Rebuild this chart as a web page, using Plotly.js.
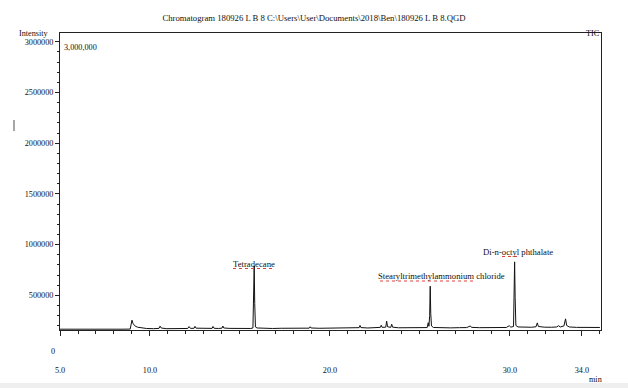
<!DOCTYPE html>
<html>
<head>
<meta charset="utf-8">
<script src="https://cdn.plot.ly/plotly-3.0.1.min.js"></script>
<style>html,body{margin:0;padding:0;background:#fff;}#chart{width:628px;height:388px;}</style>
</head>
<body>
<div id="chart"></div>
<script>
// Retention time (min)
const retentionTime = [
  5.0, 5.5, 6.0, 6.5, 7.0, 7.5, 8.0, 8.5, 8.9, 8.95, 9.0, 9.05, 9.15, 9.3, 9.5, 9.8,
  10.2, 10.5, 10.56, 10.62, 10.9, 11.3, 11.7, 12.1, 12.17, 12.25, 12.45, 12.5, 12.56, 12.9,
  13.2, 13.45, 13.5, 13.56, 13.8, 14.0, 14.05, 14.1, 14.4, 14.8, 15.2, 15.6, 15.72, 15.76,
  15.79, 15.82, 15.86, 15.95, 16.3, 16.8, 17.3, 17.8, 18.3, 18.85, 18.9, 18.95, 19.4, 19.9,
  20.4, 20.9, 21.3, 21.62, 21.67, 21.72, 22.1, 22.5, 22.8, 22.85, 22.9, 23.1, 23.15, 23.2,
  23.38, 23.43, 23.48, 23.8, 24.3, 24.8, 25.2, 25.4, 25.46, 25.5, 25.54, 25.57, 25.6, 25.64,
  25.75, 26.2, 26.7, 27.2, 27.6, 27.8, 27.86, 28.3, 28.8, 29.3, 29.8, 29.96, 30.05, 30.2,
  30.23, 30.26, 30.29, 30.33, 30.45, 30.8, 31.2, 31.45, 31.52, 31.58, 31.9, 32.3, 32.6, 32.7,
  32.8, 33.0, 33.09, 33.15, 33.3, 33.7, 34.2, 34.6, 35.0
];
// TIC intensity
const intensity = [
  166000, 165000, 167000, 166000, 165500, 166500, 167000, 166000, 167000, 200000, 255000, 225000, 200000, 186000, 178000, 173000,
  171000, 174000, 196000, 178000, 171000, 170000, 172000, 173000, 192000, 174000, 175000, 194000, 176000, 173000,
  172000, 174000, 193000, 175000, 173000, 176000, 197000, 178000, 174000, 172000, 173000, 173000, 178000, 400000,
  790000, 420000, 188000, 178000, 174000, 173000, 175000, 174000, 173000, 176000, 190000, 178000, 175000, 176000,
  178000, 177000, 179000, 181000, 203000, 182000, 178000, 180000, 184000, 205000, 184000, 186000, 245000, 190000,
  184000, 215000, 186000, 180000, 179000, 178000, 180000, 182000, 230000, 195000, 300000, 590000, 320000, 198000,
  183000, 180000, 179000, 181000, 182000, 198000, 184000, 181000, 180000, 181000, 183000, 200000, 186000, 193000,
  450000, 830000, 480000, 203000, 188000, 186000, 185000, 190000, 228000, 193000, 186000, 185000, 188000, 200000,
  188000, 198000, 268000, 203000, 188000, 184000, 183000, 184000, 183000
];
// Identified compounds
const compoundNames = ["Tetradecane", "Stearyltrimethylammonium chloride", "Di-n-octyl phthalate"];
const compoundTimes = [15.79, 25.57, 30.26];
const compoundHeights = [790000, 590000, 830000];
// Axis ticks
const xTickVals = [5, 10, 20, 30, 34];
const xTickText = ["5.0", "10.0", "20.0", "30.0", "34.0"];
const yTickVals = [500000, 1000000, 1500000, 2000000, 2500000, 3000000];
const yTickText = ["500000", "1000000", "1500000", "2000000", "2500000", "3000000"];

const L = 60, T = 33, W = 541, H = 297;
const px = x => (x - L) / W;
const py = y => (T + H - y) / H;
const fam = "Liberation Serif, Times New Roman, serif";
const font = {family: fam, size: 8.7, color: "#111"};
const tickFont = {family: fam, size: 8.2, color: "#111"};

const labelOffsets = [[0, 2], [11, 10], [3, 10]];
const annotations = compoundNames.map((n, i) => ({
  x: compoundTimes[i], y: compoundHeights[i], xref: "x", yref: "y", text: n,
  showarrow: false, xanchor: "center", yanchor: "middle",
  xshift: labelOffsets[i][0], yshift: labelOffsets[i][1], font: font
}));
annotations.push(
  {xref: "paper", yref: "paper", x: px(51), y: py(33), text: "Intensity", showarrow: false, xanchor: "right", yanchor: "middle", font: tickFont},
  {xref: "paper", yref: "paper", x: px(602), y: py(33), text: "TIC", showarrow: false, xanchor: "right", yanchor: "middle", font: tickFont},
  {xref: "paper", yref: "paper", x: px(62), y: py(47), text: "3,000,000", showarrow: false, xanchor: "left", yanchor: "middle", font: tickFont},
  {xref: "paper", yref: "paper", x: px(53), y: py(351), text: "0", showarrow: false, xanchor: "center", yanchor: "middle", font: tickFont},
  {xref: "paper", yref: "paper", x: px(595), y: py(380), text: "min", showarrow: false, xanchor: "center", yanchor: "middle", font: tickFont}
);

const squiggle = (x0, x1, y) => ({type: "line", xref: "paper", yref: "paper", x0: px(x0), x1: px(x1), y0: py(y), y1: py(y), line: {color: "#e0403a", width: 1, dash: "dot"}});
const shapes = [
  squiggle(233, 275, 268.5), squiggle(380, 476, 281), squiggle(502, 517, 256.5),
  {type: "line", xref: "paper", yref: "paper", x0: px(14), x1: px(14), y0: py(131), y1: py(120), line: {color: "#888", width: 1.5}},
  {type: "rect", xref: "paper", yref: "paper", x0: px(-2), x1: px(630), y0: py(390), y1: py(383), fillcolor: "#efefef", line: {width: 0}}
];

const trace = {
  x: retentionTime, y: intensity, type: "scatter", mode: "lines",
  line: {color: "#111", width: 1}, hoverinfo: "skip"
};

const layout = {
  width: 628, height: 388,
  margin: {l: L, r: 628 - L - W, t: T, b: 388 - T - H, pad: 0},
  paper_bgcolor: "#fff", plot_bgcolor: "#fff",
  showlegend: false,
  title: {text: "Chromatogram 180926 L B 8 C:\\Users\\User\\Documents\\2018\\Ben\\180926 L B 8.QGD",
    font: {family: fam, size: 8.7, color: "#111"}, x: 0.5, xref: "container", y: 1 - 18 / 388, yref: "container", yanchor: "middle"},
  xaxis: {
    range: [5, 35.06], showgrid: false, zeroline: false, showline: true, linecolor: "#222", linewidth: 1, mirror: true,
    tickmode: "array", tickvals: xTickVals, ticktext: xTickText, ticks: "outside", ticklen: 5, tickcolor: "#222",
    ticklabelstandoff: 27, tickfont: tickFont,
    minor: {tickmode: "linear", tick0: 5, dtick: 1, ticks: "outside", ticklen: 3, tickcolor: "#222", showgrid: false}
  },
  yaxis: {
    range: [158000, 3087000], showgrid: false, zeroline: false, showline: true, linecolor: "#222", linewidth: 1, mirror: true,
    tickmode: "array", tickvals: yTickVals, ticktext: yTickText, ticks: "outside", ticklen: 4, tickcolor: "#222",
    tickfont: tickFont,
    minor: {tickmode: "linear", tick0: 0, dtick: 100000, ticks: "outside", ticklen: 2, tickcolor: "#222", showgrid: false}
  },
  annotations: annotations,
  shapes: shapes
};

Plotly.newPlot("chart", [trace], layout, {displayModeBar: false, staticPlot: true});
</script>
</body>
</html>
